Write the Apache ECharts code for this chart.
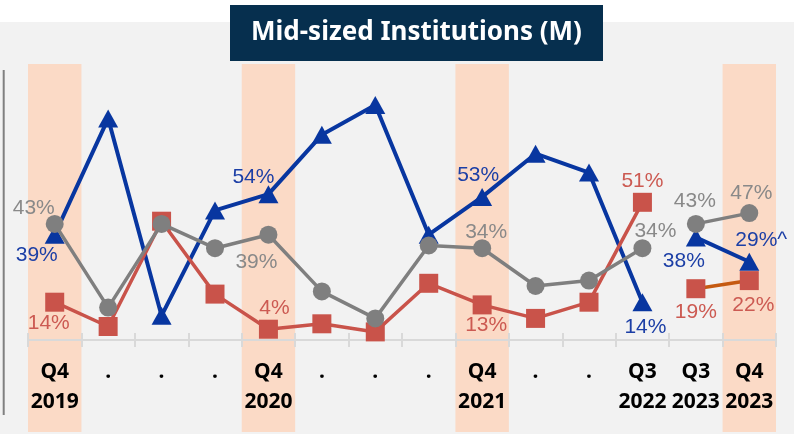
<!DOCTYPE html>
<html>
<head>
<meta charset="utf-8">
<script src="https://cdn.jsdelivr.net/npm/echarts@6/dist/echarts.min.js"></script>
<style>
  html, body { margin: 0; padding: 0; background: #ffffff; }
  #chart { width: 794px; height: 434px; }
</style>
</head>
<body>
<div id="chart"></div>
<script>
// ---------------- Data ----------------
const titleText = 'Mid-sized Institutions (M)';
const categories = ['Q4\n2019', '.', '.', '.', 'Q4\n2020', '.', '.', '.', 'Q4\n2021', '.', '.', 'Q3\n2022', 'Q3\n2023', 'Q4\n2023'];
const highlighted = [1, 0, 0, 0, 1, 0, 0, 0, 1, 0, 0, 0, 0, 1];
const blueValues = [39, 82, 9, 48, 54, 76, 87, 39, 53, 69, 62, 14, 38, 29];
const grayValues = [43, 12, 43, 34, 39, 18, 8, 35, 34, 20, 22, 34, 43, 47];
const redValues  = [14, 5, 44, 17, 4, 6, 3, 21, 13, 8, 14, 51, 19, 22];
const blueLabels = ['39%', '', '', '', '54%', '', '', '', '53%', '', '', '14%', '38%', '29%^'];
const grayLabels = ['43%', '', '', '', '39%', '', '', '', '34%', '', '', '34%', '43%', '47%'];
const redLabels  = ['14%', '', '', '', '4%', '', '', '', '13%', '', '', '51%', '19%', '22%'];
const firstPeriodLastIndex = 11; // line breaks after Q3 2022

// ---------------- Styling ----------------
const COLORS = {
  blue: '#0836a0', blueText: '#1c3fa6',
  gray: '#7f7f7f', grayText: '#898989',
  red: '#c9534a', redText: '#cc5a52',
  redLine2: '#c55a11',
  band: '#fbdac6', bg: '#f2f2f2', title: '#062f4e'
};
// label offsets (px) relative to the marker centre, keyed by index
const blueOffsets = {0: [-18, 21], 4: [-15, -17], 8: [-4, -22], 11: [3, 25], 12: [-12, 24], 13: [12, -21]};
const grayOffsets = {0: [-21, -16], 4: [-12, 28], 8: [4, -16], 11: [13, -17], 12: [-1, -23], 13: [2, -20]};
const redOffsets  = {0: [-6, 21], 4: [6, -21], 8: [4, 20], 11: [0, -21], 12: [0, 24], 13: [4, 25]};

function buildData(values, labels, offsets, textColor, part) {
  return values.map((v, i) => {
    const inPart = part === 0 ? i <= firstPeriodLastIndex : i > firstPeriodLastIndex;
    if (!inPart) return '-';
    const lbl = labels[i];
    if (!lbl) return { value: v };
    return {
      value: v,
      label: {
        show: true, position: 'inside', formatter: lbl,
        offset: offsets[i] || [0, 0],
        color: textColor, fontFamily: 'Liberation Sans', fontSize: 21
      }
    };
  });
}

function lineSeries(name, values, labels, offsets, color, textColor, lineColor, symbol, symbolSize, width, z, part) {
  return {
    name, type: 'line', xAxisIndex: 0, yAxisIndex: 0, z,
    data: buildData(values, labels, offsets, textColor, part),
    symbol, symbolSize, showAllSymbol: true,
    itemStyle: { color, borderWidth: 0 },
    lineStyle: { color: lineColor, width },
    label: { show: false },
    emphasis: { disabled: true },
    connectNulls: false, silent: true
  };
}

const chart = echarts.init(document.getElementById('chart'), null, { renderer: 'canvas' });

const series = [
  {
    type: 'bar', xAxisIndex: 2, yAxisIndex: 1, z: 1,
    data: highlighted.map(h => h ? 1 : '-'),
    barWidth: '100%', barGap: '0%',
    itemStyle: { color: COLORS.band }, silent: true,
    emphasis: { disabled: true }
  }
];
for (const part of [0, 1]) {
  series.push(lineSeries('Blue', blueValues, blueLabels, blueOffsets, COLORS.blue, COLORS.blueText, COLORS.blue, 'triangle', [20, 18], 4, 4, part));
  series.push(lineSeries('Red', redValues, redLabels, redOffsets, COLORS.red, COLORS.redText, part === 0 ? COLORS.red : COLORS.redLine2, 'rect', 19, 3.5, 5, part));
  series.push(lineSeries('Gray', grayValues, grayLabels, grayOffsets, COLORS.gray, COLORS.grayText, COLORS.gray, 'circle', 18, 3.5, 6, part));
}

const option = {
  animation: false,
  backgroundColor: COLORS.bg,
  grid: [
    { left: 28, right: 18, top: 70, bottom: 94 },
    { left: 28, right: 18, top: 64, bottom: 2 }
  ],
  xAxis: [
    {
      type: 'category', gridIndex: 0, position: 'bottom', data: categories, z: 3,
      axisLine: { show: true, lineStyle: { color: '#d9d9d9', width: 2 } },
      axisTick: { show: true, interval: 0, length: 7, lineStyle: { color: '#d9d9d9', width: 2 } },
      axisLabel: {
        interval: 0, margin: 17, color: '#000000',
        fontFamily: 'Noto Sans', fontWeight: 'bold', fontSize: 21, lineHeight: 30
      }
    },
    {
      type: 'category', gridIndex: 0, position: 'bottom', data: categories, z: 3,
      axisLine: { show: false },
      axisTick: { show: true, inside: true, interval: 0, length: 7, lineStyle: { color: '#d9d9d9', width: 2 } },
      axisLabel: { show: false }
    },
    {
      type: 'category', gridIndex: 1, data: categories, show: false
    }
  ],
  yAxis: [
    { type: 'value', gridIndex: 0, min: 0, max: 100, show: false, splitLine: { show: false } },
    { type: 'value', gridIndex: 1, min: 0, max: 1, show: false, splitLine: { show: false } }
  ],
  graphic: [
    { type: 'rect', shape: { x: 0, y: 0, width: 794, height: 22 }, style: { fill: '#ffffff' }, z: 0, silent: true },
    { type: 'line', shape: { x1: 3.7, y1: 70, x2: 3.7, y2: 415 }, style: { stroke: '#808080', lineWidth: 2 }, z: 10, silent: true },
    { type: 'rect', shape: { x: 230, y: 5, width: 373, height: 56 }, style: { fill: COLORS.title }, z: 10, silent: true },
    {
      type: 'text', x: 416.5, y: 33, z: 11, silent: true,
      style: {
        text: titleText, fill: '#ffffff', font: 'bold 26px "Noto Sans"',
        textAlign: 'center', textVerticalAlign: 'middle'
      }
    }
  ],
  series
};
chart.setOption(option);
</script>
</body>
</html>
